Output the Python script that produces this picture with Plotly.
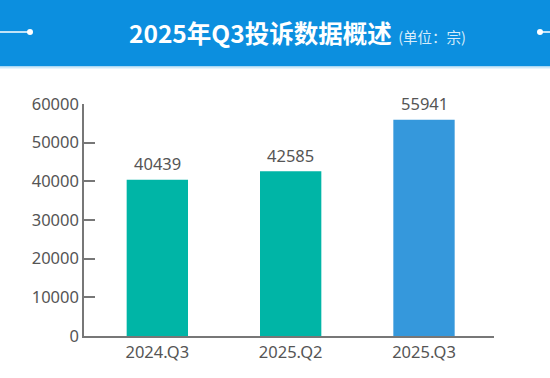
import plotly.graph_objects as go

categories = ["2024.Q3", "2025.Q2", "2025.Q3"]
values = [40439, 42585, 55941]
bar_colors = ["#00B5A6", "#00B5A6", "#3598DC"]
y_ticks = [0, 10000, 20000, 30000, 40000, 50000, 60000]
title_main = "2025年Q3投诉数据概述"
title_unit = "(单位：宗)"

W, H = 550, 378
L, R, T, B = 84, 56, 104, 42
pw, ph = W - L - R, H - T - B

def px(x):
    return (x - L) / pw

def py(y):
    return (H - B - y) / ph

font_main = "Noto Sans, Noto Sans CJK SC, sans-serif"

fig = go.Figure()
fig.add_trace(go.Bar(
    x=categories, y=values,
    marker=dict(color=bar_colors, line=dict(width=0)),
    width=0.46,
    hoverinfo="x+y",
))

for c, v in zip(categories, values):
    fig.add_annotation(x=c, y=v, text=str(v), showarrow=False, yanchor="middle",
                       yshift=16, font=dict(size=16.5, color="#555555", family=font_main))

shapes = [
    dict(type="rect", xref="paper", yref="paper", x0=px(0), x1=px(W), y0=py(66.5), y1=py(0),
         fillcolor="#0C8FDF", line=dict(width=0), layer="below"),
    dict(type="rect", xref="paper", yref="paper", x0=px(0), x1=px(W), y0=py(68.5), y1=py(66.5),
         fillcolor="#CFE9F9", line=dict(width=0), layer="below"),
    dict(type="line", xref="paper", yref="paper", x0=px(0), x1=px(30), y0=py(32), y1=py(32),
         line=dict(color="white", width=1.5)),
    dict(type="circle", xref="paper", yref="paper", x0=px(27), x1=px(33), y0=py(35), y1=py(29),
         fillcolor="white", line=dict(width=0)),
    dict(type="line", xref="paper", yref="paper", x0=px(540), x1=px(W), y0=py(32), y1=py(32),
         line=dict(color="white", width=1.5)),
    dict(type="circle", xref="paper", yref="paper", x0=px(537), x1=px(543), y0=py(35), y1=py(29),
         fillcolor="white", line=dict(width=0)),
]

fig.add_annotation(
    xref="paper", yref="paper", x=px(297), y=py(33), xanchor="center", yanchor="middle",
    text=f"<b>{title_main}</b><span style='font-size:14.5px;color:#D6ECFA'>&nbsp;&nbsp;{title_unit}</span>",
    showarrow=False,
    font=dict(size=24.5, color="white", family="Noto Sans CJK SC, sans-serif"),
)

fig.update_layout(
    width=W, height=H,
    margin=dict(l=L, r=R, t=T, b=B, pad=0),
    paper_bgcolor="white", plot_bgcolor="white",
    showlegend=False,
    shapes=shapes,
    xaxis=dict(
        type="category", range=[-0.55, 2.525],
        showline=True, linecolor="#777777", linewidth=1.5,
        ticks="", showgrid=False, zeroline=False,
        tickfont=dict(size=16.5, color="#555555", family=font_main),
        fixedrange=True,
    ),
    yaxis=dict(
        range=[0, 60000], tickvals=y_ticks, ticktext=[str(v) for v in y_ticks],
        showline=True, linecolor="#777777", linewidth=1.5,
        ticks="inside", ticklen=11, tickcolor="#777777", tickwidth=1.5,
        showgrid=False, zeroline=False,
        tickfont=dict(size=16.5, color="#555555", family=font_main),
        fixedrange=True,
    ),
)

fig.write_html("out.html", config={"displayModeBar": False},
               post_script="document.body.style.margin='0';document.body.style.padding='0';")
